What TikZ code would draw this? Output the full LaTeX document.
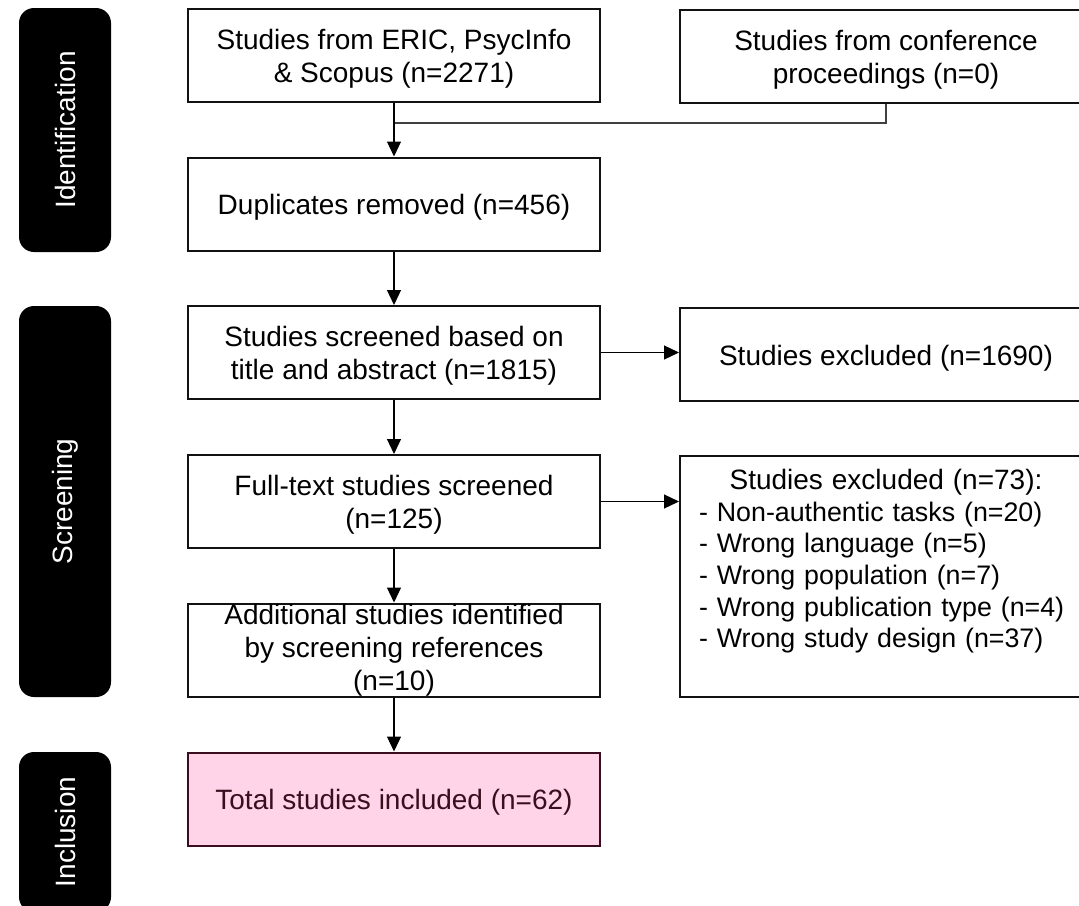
\documentclass[tikz,border=0pt]{standalone}
\usepackage{fontspec}
\setmainfont{Liberation Sans}
\usetikzlibrary{arrows.meta}
\definecolor{incfill}{RGB}{255,212,232}
\definecolor{incdraw}{RGB}{58,14,30}
% taller first line, so that box text sits slightly below the box centre
\newcommand{\liftline}{\rule{0pt}{27.5pt}}
\begin{document}
\begin{tikzpicture}[x=1pt,y=-1pt,
  every node/.style={font=\fontsize{28}{33}\selectfont},
  box/.style={draw=black!93, line width=2pt, inner sep=0pt,
    minimum width=412pt, minimum height=93pt, align=center},
  phase/.style={fill=black, rounded corners=15pt, text=white, rotate=90,
    inner sep=0pt, minimum height=92pt},
  flow/.style={line width=1.2pt, -{Triangle[length=15pt,width=14pt]}},
  merge/.style={line width=1.2pt, draw=black!75}]
\useasboundingbox (0,0) rectangle (1079,905);
\clip (0,0) rectangle (1079,905);

% phase tabs on the left
\node[phase, minimum width=244pt] (idtab) at (65,130) {Identification};
\node[phase, minimum width=391pt] (sctab) at (65,501.5) {Screening};
\node[phase, minimum width=160pt] (intab) at (65,832) {Inclusion};

% main flow column
\node[box] (src) at (394,55.5) {\liftline Studies from ERIC, PsycInfo\\ \& Scopus (n=2271)};
\node[box] (dup) at (394,204) {\liftline Duplicates removed (n=456)};
\node[box] (scr) at (394,352.5) {\liftline Studies screened based on\\ title and abstract (n=1815)};
\node[box] (full) at (394,501.5) {\liftline Full-text studies screened\\ (n=125)};
\node[box] (add) at (394,650) {Additional studies identified\\ by screening references\\ (n=10)};
\node[box, fill=incfill, draw=incdraw, text=incdraw] (tot) at (394,799) {\liftline Total studies included (n=62)};

% side boxes
\node[box] (conf) at (886,56) {\liftline Studies from conference\\ proceedings (n=0)};
\node[box] (exa) at (886,354.5) {\liftline Studies excluded (n=1690)};
\node[box, minimum height=241pt] (exb) at (886,576.5) {};
\node[inner sep=0pt, align=left, text width=374pt, anchor=north,
  font=\fontsize{26.8}{31.7}\selectfont] (exbtxt) at (886,469)
  {\makebox[\linewidth]{\fontsize{28}{31.7}\selectfont Studies excluded (n=73):}\\
   - Non-authentic tasks (n=20)\\
   - Wrong language (n=5)\\
   - Wrong population (n=7)\\
   - Wrong publication type (n=4)\\
   - Wrong study design (n=37)};

% connectors
\coordinate (mrg) at (394,123);
\draw[merge] (conf.south) |- (mrg);
\draw[flow] (src) -- (dup);
\draw[flow] (dup) -- (scr);
\draw[flow] (scr) -- (full);
\draw[flow] (full) -- (add);
\draw[flow] (add) -- (tot);
\draw[flow] (scr.east) -- (exa.west |- scr.east);
\draw[flow] (full.east) -- (exb.west |- full.east);
\end{tikzpicture}
\end{document}
